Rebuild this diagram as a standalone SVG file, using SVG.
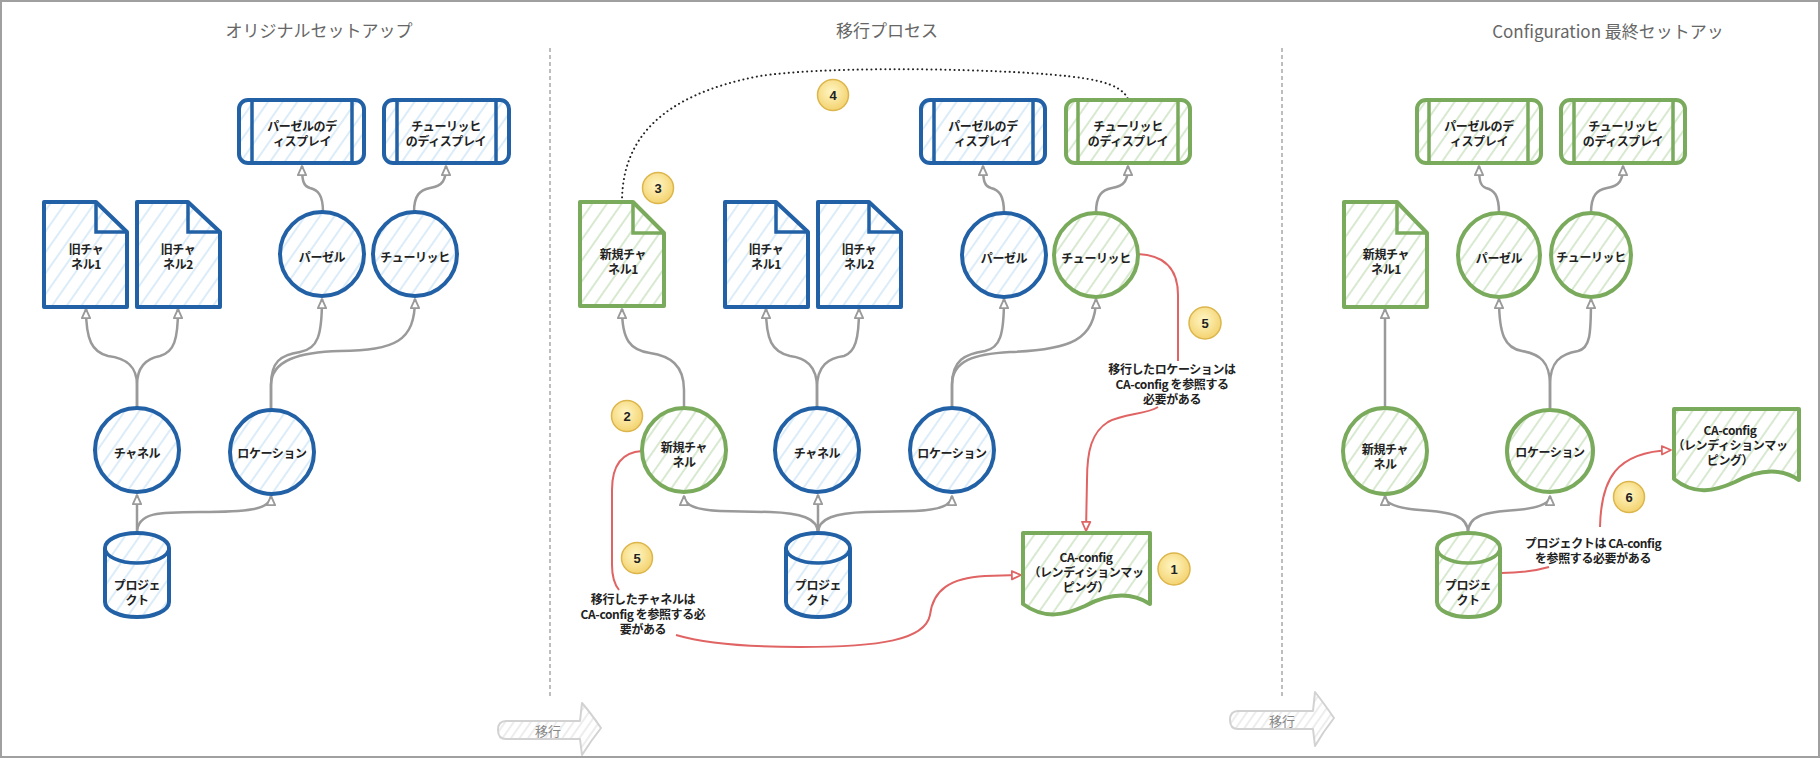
<svg xmlns="http://www.w3.org/2000/svg" width="1820" height="758" viewBox="0 0 1820 758">
  <defs>
    <pattern id="hatchBlue" patternUnits="userSpaceOnUse" width="12" height="12" patternTransform="rotate(35)">
      <rect width="12" height="12" fill="#ffffff"/>
      <line x1="2" y1="0" x2="2" y2="12" stroke="#d3e8f8" stroke-width="1.6"/>
    </pattern>
    <pattern id="hatchGreen" patternUnits="userSpaceOnUse" width="12" height="12" patternTransform="rotate(35)">
      <rect width="12" height="12" fill="#ffffff"/>
      <line x1="2" y1="0" x2="2" y2="12" stroke="#cfe4c5" stroke-width="1.6"/>
    </pattern>
    <pattern id="hatchGray" patternUnits="userSpaceOnUse" width="7" height="7" patternTransform="rotate(35)">
      <rect width="7" height="7" fill="#ffffff"/>
      <line x1="2" y1="0" x2="2" y2="7" stroke="#e2e2e2" stroke-width="1.2"/>
    </pattern>
    <radialGradient id="badgeFill" cx="0.45" cy="0.4" r="0.65">
      <stop offset="0" stop-color="#fff6c4"/>
      <stop offset="1" stop-color="#f3d06a"/>
    </radialGradient>
    <marker id="arrGray" viewBox="0 0 12 12" refX="11" refY="6" markerWidth="11" markerHeight="11" markerUnits="userSpaceOnUse" orient="auto">
      <path d="M1,1.5 L11,6 L1,10.5 Z" fill="#ffffff" stroke="#9a9a9a" stroke-width="2" stroke-linejoin="round"/>
    </marker>
    <marker id="arrRed" viewBox="0 0 12 12" refX="11" refY="6" markerWidth="11" markerHeight="11" markerUnits="userSpaceOnUse" orient="auto">
      <path d="M1,1.5 L11,6 L1,10.5 Z" fill="#ffffff" stroke="#e06464" stroke-width="2" stroke-linejoin="round"/>
    </marker>
    <style>
      .blue { stroke:#2261a6; stroke-width:4; fill:url(#hatchBlue); stroke-linejoin:round; }
      .green { stroke:#7aaa5c; stroke-width:4; fill:url(#hatchGreen); stroke-linejoin:round; }
      .bline { stroke:#2261a6; stroke-width:3.5; fill:none; }
      .gline { stroke:#7aaa5c; stroke-width:3.5; fill:none; }
      .lbl, .note { font-family:"Noto Sans CJK JP","Noto Sans",sans-serif; font-size:12px; font-weight:600; fill:#222; text-anchor:middle; dominant-baseline:central; letter-spacing:-0.4px; }
      .title { font-family:"Noto Sans CJK JP","Noto Sans",sans-serif; font-size:17px; fill:#666; text-anchor:middle; dominant-baseline:central; }
      .step { font-family:"Noto Sans CJK JP","Noto Sans",sans-serif; font-size:13px; fill:#888; text-anchor:middle; dominant-baseline:central; }
      .badge circle { fill:url(#badgeFill); stroke:#dcb64c; stroke-width:1.5; }
      .badge text { font-family:"Liberation Sans",Arial,sans-serif; font-size:13px; font-weight:bold; fill:#222; text-anchor:middle; dominant-baseline:central; }
      .conn { fill:none; stroke:#9a9a9a; stroke-width:2.5; marker-end:url(#arrGray); }
      .red { fill:none; stroke:#e06464; stroke-width:2; }
      .redArr { marker-end:url(#arrRed); }
      .dotted { fill:none; stroke:#222; stroke-width:2; stroke-dasharray:0.1 4.5; stroke-linecap:round; }
      .divider { stroke:#a8a8a8; stroke-width:1.5; stroke-dasharray:4 3; }
      .migrate { fill:url(#hatchGray); stroke:#d2d2d2; stroke-width:2; stroke-linejoin:round; }
    </style>
  </defs>

  <!-- outer frame -->
  <rect x="1" y="1" width="1818" height="756" fill="#ffffff" stroke="#a0a0a0" stroke-width="2"/>

  <!-- section titles and dividers -->
  <text class="title" x="319" y="29">オリジナルセットアップ</text>
  <text class="title" x="887" y="29">移行プロセス</text>
  <text class="title" x="1608" y="30">Configuration 最終セットアッ</text>
  <line class="divider" x1="550" y1="48" x2="550" y2="698"/>
  <line class="divider" x1="1282" y1="48" x2="1282" y2="698"/>

  <!-- migration step arrows -->
  <g id="step-arrow-1">
    <path class="migrate" d="M506,721 H580 L582,703 Q590,712 601,728 Q590,742 582,755 L580,739 H506 Q498,739 498,730 Q498,721 506,721 Z"/>
    <text class="step" x="548" y="730">移行</text>
  </g>
  <g id="step-arrow-2">
    <path class="migrate" d="M1238,711 H1313 L1315,692 Q1323,702 1334,718 Q1323,732 1315,746 L1313,729 H1238 Q1230,729 1230,720 Q1230,711 1238,711 Z"/>
    <text class="step" x="1282" y="720">移行</text>
  </g>

  <!-- connectors -->
  <g id="connectors">
    <!-- original setup -->
    <path class="conn" d="M137,533 L137,495"/>
    <path class="conn" d="M137,533 C137,512 160,512 200,512 C245,512 271,510 271,496"/>
    <path class="conn" d="M137,408 L137,385 C137,365 125,358 108,356 C92,352 86,340 86,309"/>
    <path class="conn" d="M137,408 L137,385 C137,365 149,358 160,356 C174,352 178,340 178,309"/>
    <path class="conn" d="M271,410 L271,385 C271,362 280,355 300,352 C318,349 322,335 322,299"/>
    <path class="conn" d="M271,410 L271,385 C271,360 300,352 340,351 C395,350 415,342 415,299"/>
    <path class="conn" d="M323,212 C323,195 318,190 310,188 C303,186 302,180 302,166"/>
    <path class="conn" d="M414,212 C414,195 420,190 430,188 C443,186 446,180 446,166"/>

    <!-- migration process -->
    <path class="conn" d="M818,533 L818,495"/>
    <path class="conn" d="M818,533 C818,518 800,513 770,512 L720,511 C695,510 684,505 684,496"/>
    <path class="conn" d="M818,533 C818,518 836,513 866,512 L915,511 C940,510 952,505 952,496"/>
    <path class="conn" d="M684,408 L684,390 C684,365 670,356 650,353 C630,350 622,340 622,309"/>
    <path class="conn" d="M817,408 L817,388 C817,365 805,358 790,356 C772,352 766,340 766,309"/>
    <path class="conn" d="M817,408 L817,388 C817,365 829,358 844,356 C855,352 859,340 859,309"/>
    <path class="conn" d="M952,408 L952,385 C952,360 965,354 985,351 C1000,348 1004,335 1004,299"/>
    <path class="conn" d="M952,408 L952,385 C952,360 975,354 1010,352 C1070,350 1096,340 1096,299"/>
    <path class="conn" d="M1004,213 C1004,195 999,190 991,188 C984,186 983,180 983,166"/>
    <path class="conn" d="M1096,213 C1096,195 1102,190 1112,188 C1125,186 1128,180 1128,166"/>
    <path class="dotted" d="M622,202 C622,140 660,95 760,76 C820,67 950,68 1030,73 C1090,77 1120,82 1128,99"/>
    <path class="red" d="M642,451 C625,452 612,462 612,490 L612,565 C612,578 615,585 619,590"/>
    <path class="red redArr" d="M676,635 C700,642 740,647 800,647 C880,647 925,640 930,615 C933,590 950,578 985,576 L1021,575"/>
    <path class="red" d="M1138,254 C1160,255 1178,265 1178,295 L1178,361"/>
    <path class="red redArr" d="M1158,407 C1145,415 1125,413 1108,422 C1092,432 1087,450 1087,480 L1086,531"/>

    <!-- final configuration -->
    <path class="conn" d="M1468,533 C1468,515 1450,512 1420,510 C1395,508 1385,503 1385,496"/>
    <path class="conn" d="M1468,533 C1468,515 1486,512 1516,510 C1540,508 1550,503 1550,496"/>
    <path class="conn" d="M1385,408 L1385,309"/>
    <path class="conn" d="M1550,408 L1550,385 C1550,362 1540,354 1522,351 C1505,348 1499,335 1499,299"/>
    <path class="conn" d="M1550,408 L1550,385 C1550,362 1560,354 1578,351 C1590,348 1591,335 1591,299"/>
    <path class="conn" d="M1499,213 C1499,195 1494,190 1486,188 C1480,186 1479,180 1479,166"/>
    <path class="conn" d="M1591,213 C1591,195 1597,190 1607,188 C1620,186 1623,180 1623,166"/>
    <path class="red" d="M1501,573 C1520,573 1535,571 1549,567"/>
    <path class="red redArr" d="M1600,527 C1601,480 1615,452 1671,450"/>
  </g>

  <!-- original setup nodes -->
  <g id="orig-disp-basel">
    <rect class="blue" x="239" y="100" width="125" height="63" rx="9"/>
    <path class="bline" d="M252,100 V163 M352,100 V163"/>
    <text class="lbl"><tspan x="302" y="124.5">パーゼルのデ</tspan><tspan x="302" y="139.5">ィスプレイ</tspan></text>
  </g>
  <g id="orig-disp-zurich">
    <rect class="blue" x="384" y="100" width="125" height="63" rx="9"/>
    <path class="bline" d="M397,100 V163 M496,100 V163"/>
    <text class="lbl"><tspan x="446" y="124.5">チューリッヒ</tspan><tspan x="446" y="139.5">のディスプレイ</tspan></text>
  </g>
  <g id="orig-old-channel-1">
    <path class="blue" d="M44,202 H96 L127,232 V307 H44 Z"/>
    <path class="bline" d="M96,202 V232 H127"/>
    <text class="lbl"><tspan x="86" y="248">旧チャ</tspan><tspan x="86" y="263">ネル1</tspan></text>
  </g>
  <g id="orig-old-channel-2">
    <path class="blue" d="M137,202 H188 L220,232 V307 H137 Z"/>
    <path class="bline" d="M188,202 V232 H220"/>
    <text class="lbl"><tspan x="178" y="248">旧チャ</tspan><tspan x="178" y="263">ネル2</tspan></text>
  </g>
  <g id="orig-basel">
    <circle class="blue" cx="322" cy="254" r="42"/>
    <text class="lbl" x="322" y="256">パーゼル</text>
  </g>
  <g id="orig-zurich">
    <circle class="blue" cx="415" cy="254" r="42"/>
    <text class="lbl" x="415" y="256">チューリッヒ</text>
  </g>
  <g id="orig-channel">
    <circle class="blue" cx="137" cy="450" r="42"/>
    <text class="lbl" x="137" y="452">チャネル</text>
  </g>
  <g id="orig-location">
    <circle class="blue" cx="272" cy="452" r="42"/>
    <text class="lbl" x="272" y="452">ロケーション</text>
  </g>
  <g id="orig-project">
    <path class="blue" d="M105,548 A32,15 0 0,1 169,548 V602 A32,15 0 0,1 105,602 Z"/>
    <path class="bline" d="M105,548 A32,15 0 0,0 169,548"/>
    <text class="lbl"><tspan x="137" y="583.5">プロジェ</tspan><tspan x="137" y="598.5">クト</tspan></text>
  </g>

  <!-- migration process nodes -->
  <g id="mig-new-channel-doc">
    <path class="green" d="M580,202 H633 L664,233 V306 H580 Z"/>
    <path class="gline" d="M633,202 V233 H664"/>
    <text class="lbl"><tspan x="623" y="253">新規チャ</tspan><tspan x="623" y="268">ネル1</tspan></text>
  </g>
  <g id="mig-old-channel-1">
    <path class="blue" d="M725,202 H776 L808,232 V307 H725 Z"/>
    <path class="bline" d="M776,202 V232 H808"/>
    <text class="lbl"><tspan x="766" y="248">旧チャ</tspan><tspan x="766" y="263">ネル1</tspan></text>
  </g>
  <g id="mig-old-channel-2">
    <path class="blue" d="M818,202 H869 L901,232 V307 H818 Z"/>
    <path class="bline" d="M869,202 V232 H901"/>
    <text class="lbl"><tspan x="859" y="248">旧チャ</tspan><tspan x="859" y="263">ネル2</tspan></text>
  </g>
  <g id="mig-disp-basel">
    <rect class="blue" x="921" y="100" width="124" height="63" rx="9"/>
    <path class="bline" d="M934,100 V163 M1033,100 V163"/>
    <text class="lbl"><tspan x="983" y="124.5">パーゼルのデ</tspan><tspan x="983" y="139.5">ィスプレイ</tspan></text>
  </g>
  <g id="mig-disp-zurich">
    <rect class="green" x="1066" y="100" width="124" height="63" rx="9"/>
    <path class="gline" d="M1078,100 V163 M1178,100 V163"/>
    <text class="lbl"><tspan x="1128" y="124.5">チューリッヒ</tspan><tspan x="1128" y="139.5">のディスプレイ</tspan></text>
  </g>
  <g id="mig-basel">
    <circle class="blue" cx="1004" cy="255" r="42"/>
    <text class="lbl" x="1004" y="257">パーゼル</text>
  </g>
  <g id="mig-zurich">
    <circle class="green" cx="1096" cy="255" r="42"/>
    <text class="lbl" x="1096" y="257">チューリッヒ</text>
  </g>
  <g id="mig-new-channel">
    <circle class="green" cx="684" cy="450" r="42"/>
    <text class="lbl"><tspan x="684" y="445.5">新規チャ</tspan><tspan x="684" y="460.5">ネル</tspan></text>
  </g>
  <g id="mig-channel">
    <circle class="blue" cx="817" cy="450" r="42"/>
    <text class="lbl" x="817" y="452">チャネル</text>
  </g>
  <g id="mig-location">
    <circle class="blue" cx="952" cy="450" r="42"/>
    <text class="lbl" x="952" y="452">ロケーション</text>
  </g>
  <g id="mig-project">
    <path class="blue" d="M786,548 A32,15 0 0,1 850,548 V602 A32,15 0 0,1 786,602 Z"/>
    <path class="bline" d="M786,548 A32,15 0 0,0 850,548"/>
    <text class="lbl"><tspan x="818" y="583.5">プロジェ</tspan><tspan x="818" y="598.5">クト</tspan></text>
  </g>
  <g id="mig-ca-config">
    <path class="green" d="M1023,533 H1150 V604 C1125,588 1100,598 1085,606 C1065,615 1045,620 1023,604 Z"/>
    <text class="lbl"><tspan x="1086" y="556">CA-config</tspan><tspan x="1086" y="571">（レンディションマッ</tspan><tspan x="1086" y="586">ピング）</tspan></text>
  </g>
  <g id="mig-note-channel">
    <text class="note"><tspan x="643" y="597.5">移行したチャネルは</tspan><tspan x="643" y="612.5">CA-config を参照する必</tspan><tspan x="643" y="627.5">要がある</tspan></text>
  </g>
  <g id="mig-note-location">
    <text class="note"><tspan x="1172" y="367.5">移行したロケーションは</tspan><tspan x="1172" y="382.5">CA-config を参照する</tspan><tspan x="1172" y="397.5">必要がある</tspan></text>
  </g>

  <!-- final configuration nodes -->
  <g id="final-disp-basel">
    <rect class="green" x="1417" y="100" width="124" height="63" rx="9"/>
    <path class="gline" d="M1429,100 V163 M1528,100 V163"/>
    <text class="lbl"><tspan x="1479" y="124.5">パーゼルのデ</tspan><tspan x="1479" y="139.5">ィスプレイ</tspan></text>
  </g>
  <g id="final-disp-zurich">
    <rect class="green" x="1561" y="100" width="124" height="63" rx="9"/>
    <path class="gline" d="M1574,100 V163 M1673,100 V163"/>
    <text class="lbl"><tspan x="1623" y="124.5">チューリッヒ</tspan><tspan x="1623" y="139.5">のディスプレイ</tspan></text>
  </g>
  <g id="final-new-channel-doc">
    <path class="green" d="M1344,202 H1397 L1427,233 V307 H1344 Z"/>
    <path class="gline" d="M1397,202 V233 H1427"/>
    <text class="lbl"><tspan x="1386" y="252.5">新規チャ</tspan><tspan x="1386" y="267.5">ネル1</tspan></text>
  </g>
  <g id="final-basel">
    <ellipse class="green" cx="1499" cy="255" rx="41" ry="42"/>
    <text class="lbl" x="1499" y="257">パーゼル</text>
  </g>
  <g id="final-zurich">
    <ellipse class="green" cx="1591" cy="255" rx="40" ry="42"/>
    <text class="lbl" x="1591" y="256">チューリッヒ</text>
  </g>
  <g id="final-new-channel">
    <ellipse class="green" cx="1385" cy="451" rx="42" ry="43"/>
    <text class="lbl"><tspan x="1385" y="447.5">新規チャ</tspan><tspan x="1385" y="462.5">ネル</tspan></text>
  </g>
  <g id="final-location">
    <ellipse class="green" cx="1550" cy="451" rx="43" ry="41"/>
    <text class="lbl" x="1550" y="451">ロケーション</text>
  </g>
  <g id="final-project">
    <path class="green" d="M1437,548 A31.5,15 0 0,1 1500,548 V602 A31.5,15 0 0,1 1437,602 Z"/>
    <path class="gline" d="M1437,548 A31.5,15 0 0,0 1500,548"/>
    <text class="lbl"><tspan x="1468" y="583.5">プロジェ</tspan><tspan x="1468" y="598.5">クト</tspan></text>
  </g>
  <g id="final-ca-config">
    <path class="green" d="M1674,409 H1799 V480 C1775,464 1750,474 1735,482 C1715,491 1695,496 1674,479 Z"/>
    <text class="lbl"><tspan x="1730" y="428.5">CA-config</tspan><tspan x="1730" y="443.5">（レンディションマッ</tspan><tspan x="1730" y="458.5">ピング）</tspan></text>
  </g>
  <g id="final-note-project">
    <text class="note"><tspan x="1593" y="541.5">プロジェクトは CA-config</tspan><tspan x="1593" y="556.5">を参照する必要がある</tspan></text>
  </g>

  <!-- numbered step badges -->
  <g id="badge-1" class="badge"><circle cx="1174" cy="569" r="16"/><text x="1174" y="569">1</text></g>
  <g id="badge-2" class="badge"><circle cx="627" cy="416" r="15.5"/><text x="627" y="416">2</text></g>
  <g id="badge-3" class="badge"><circle cx="658" cy="188" r="15.5"/><text x="658" y="188">3</text></g>
  <g id="badge-4" class="badge"><circle cx="833" cy="95" r="15.5"/><text x="833" y="95">4</text></g>
  <g id="badge-5a" class="badge"><circle cx="637" cy="558" r="15.5"/><text x="637" y="558">5</text></g>
  <g id="badge-5b" class="badge"><circle cx="1205" cy="323" r="16"/><text x="1205" y="323">5</text></g>
  <g id="badge-6" class="badge"><circle cx="1629" cy="497" r="15.5"/><text x="1629" y="497">6</text></g>
</svg>
